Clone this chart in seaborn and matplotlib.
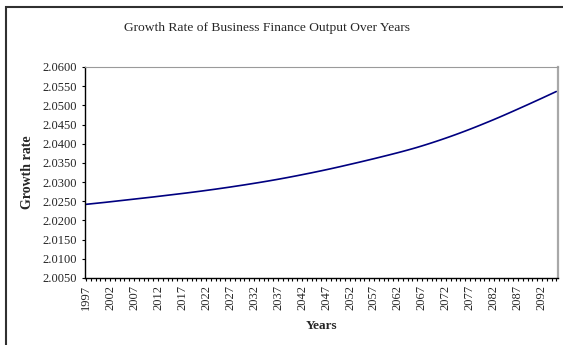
import matplotlib
matplotlib.use("Agg")
import matplotlib.pyplot as plt
from matplotlib.patches import Rectangle
from matplotlib.ticker import MultipleLocator, FormatStrFormatter
import pandas as pd
import seaborn as sns

# Projection years and the corresponding growth rate of business finance output
years = list(range(1997, 2096))
growth_rate = [
    2.02420, 2.02433, 2.02446, 2.02459, 2.02472, 2.02486, 2.02500, 2.02514, 2.02528, 2.02542,
    2.02556, 2.02570, 2.02584, 2.02598, 2.02612, 2.02627, 2.02642, 2.02657, 2.02672, 2.02687,
    2.02702, 2.02717, 2.02733, 2.02749, 2.02765, 2.02782, 2.02799, 2.02816, 2.02834, 2.02852,
    2.02870, 2.02889, 2.02908, 2.02927, 2.02947, 2.02967, 2.02987, 2.03008, 2.03029, 2.03051,
    2.03073, 2.03096, 2.03119, 2.03143, 2.03167, 2.03192, 2.03217, 2.03242, 2.03268, 2.03294,
    2.03321, 2.03348, 2.03376, 2.03404, 2.03433, 2.03462, 2.03491, 2.03520, 2.03550, 2.03580,
    2.03610, 2.03641, 2.03672, 2.03703, 2.03735, 2.03767, 2.03800, 2.03834, 2.03869, 2.03905,
    2.03943, 2.03982, 2.04022, 2.04063, 2.04105, 2.04148, 2.04192, 2.04237, 2.04283, 2.04330,
    2.04378, 2.04427, 2.04477, 2.04528, 2.04579, 2.04631, 2.04684, 2.04738, 2.04793, 2.04848,
    2.04904, 2.04960, 2.05016, 2.05073, 2.05130, 2.05187, 2.05245, 2.05303, 2.05361,
]
year_labels = years[::5]

title = "Growth Rate of Business Finance Output Over Years"

sns.set_style("white")
plt.rcParams["font.family"] = ["Liberation Serif", "DejaVu Serif"]

W, H = 563, 345
fig = plt.figure(figsize=(W / 100, H / 100), dpi=100)
fig.patch.set_facecolor("white")

# chart frame (top and left edges visible)
fig.patches.append(Rectangle((5.5 / W, -0.2), 1.5, (H - 6.5) / H + 0.2,
                             transform=fig.transFigure, fill=False,
                             edgecolor="#303030", linewidth=1.5))

ax = fig.add_axes([85 / W, 1 - 278 / H, (558 - 85) / W, (278 - 67) / H])

df = pd.DataFrame({"Years": years, "Growth rate": growth_rate})
sns.lineplot(data=df, x="Years", y="Growth rate", ax=ax,
             color="#000080", linewidth=1.2)

ax.set_xlim(years[0] - 0.2, years[-1] + 0.35)
ax.set_ylim(2.005, 2.06)
ax.yaxis.set_major_locator(MultipleLocator(0.005))
ax.yaxis.set_major_formatter(FormatStrFormatter("%.4f"))
ax.set_xticks(year_labels)
ax.set_xticklabels([str(y) for y in year_labels])
ax.set_xticks(years, minor=True)

ax.tick_params(axis="x", which="both", direction="out", length=2.5, width=0.8,
               color="black", bottom=True)
ax.tick_params(axis="x", which="major", labelsize=9, rotation=90, pad=2.5)
ax.tick_params(axis="y", which="major", direction="out", length=2.5, width=0.8,
               color="black", left=True, labelsize=9, pad=3.5)

for side in ("left", "bottom"):
    ax.spines[side].set_color("black")
    ax.spines[side].set_linewidth(1.0)
ax.spines["top"].set_color("#9a9a9a")
ax.spines["top"].set_linewidth(0.8)
ax.spines["right"].set_color("#a8a8a8")
ax.spines["right"].set_linewidth(1.6)

ax.set_xlabel("Years", fontsize=9.5, fontweight="bold")
ax.set_ylabel("Growth rate", fontsize=10, fontweight="bold")
ax.xaxis.label.set_va("center")
ax.yaxis.label.set_va("center")
ax.xaxis.set_label_coords(0.5, (278 - 326) / (278 - 67))
ax.yaxis.set_label_coords((28 - 85) / (558 - 85), 0.5)

fig.text(267 / W, 1 - 28 / H, title, ha="center", va="center", fontsize=9.7)

fig.savefig("out.png", dpi=100)
